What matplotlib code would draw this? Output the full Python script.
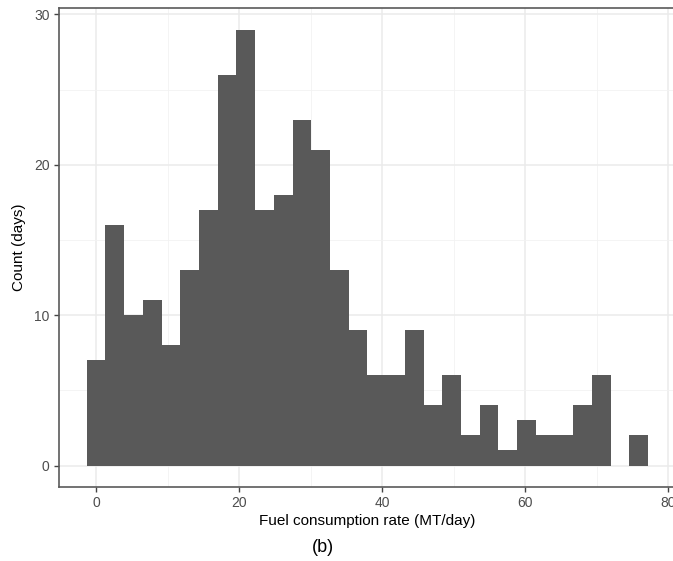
import numpy as np
import matplotlib
matplotlib.use("Agg")
import matplotlib.pyplot as plt
from matplotlib.ticker import MultipleLocator

plt.rcParams['font.family'] = ['Liberation Sans', 'DejaVu Sans']

# histogram counts (30 bins, ggplot default)
counts = [7, 16, 10, 11, 8, 13, 17, 26, 29, 17, 18, 23, 21, 13, 9,
          6, 6, 9, 4, 6, 2, 4, 1, 3, 2, 2, 4, 6, 0, 2]
x_min, x_max = 0.0, 75.9          # range of the underlying data
x_ticks = [0, 20, 40, 60, 80]
y_ticks = [0, 10, 20, 30]

nbins = len(counts)
width = (x_max - x_min) / (nbins - 1)
centers = x_min + width * np.arange(nbins)

fig = plt.figure(figsize=(6.73, 5.61), dpi=100)
ax = fig.add_axes([58.7 / 673, 73.7 / 561, 617.5 / 673, 479.6 / 561])

ax.bar(centers, counts, width=width, color='#595959', linewidth=0, zorder=3)

lo, hi = x_min - width / 2, x_max + width / 2
pad = (hi - lo) * 0.05
ax.set_xlim(lo - pad, hi + pad)
ax.set_ylim(-max(counts) * 0.05, max(counts) * 1.05)

ax.set_xticks(x_ticks)
ax.set_yticks(y_ticks)
ax.xaxis.set_minor_locator(MultipleLocator(10))
ax.yaxis.set_minor_locator(MultipleLocator(5))
ax.grid(which='major', color='#EBEBEB', linewidth=1.1, zorder=0)
ax.grid(which='minor', color='#F2F2F2', linewidth=0.6, zorder=0)
ax.set_axisbelow(True)

for s in ax.spines.values():
    s.set_color('#5a5a5a')
    s.set_linewidth(1.2)

ax.tick_params(which='major', length=3.5, width=1, color='#444444',
               labelcolor='#4D4D4D', labelsize=10, pad=3)
ax.tick_params(which='minor', length=0)

ax.set_xlabel('Fuel consumption rate (MT/day)', fontsize=11, color='black', labelpad=3)
ax.set_ylabel('Count (days)', fontsize=11, color='black', labelpad=6)

fig.text(323 / 673, 1 - 547 / 561, '(b)', fontsize=13, ha='center', va='center')

fig.savefig('out.png', dpi=100)
